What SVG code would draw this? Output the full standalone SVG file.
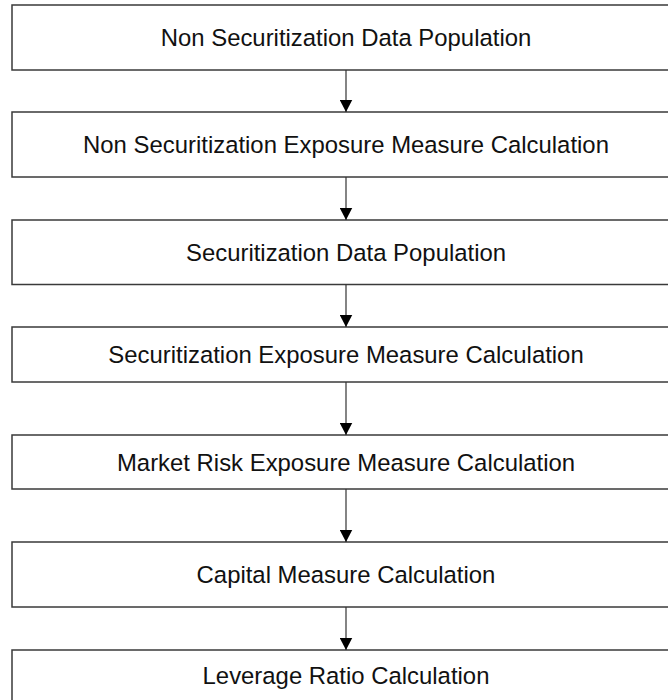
<svg xmlns="http://www.w3.org/2000/svg" width="668" height="700" viewBox="0 0 668 700">
<style>
.box{fill:#fff;stroke:#3a3a3a;stroke-width:1.5}
.lbl{font-family:"Liberation Sans",Arial,sans-serif;font-size:23.9px;fill:#111;text-anchor:middle}
.con{stroke:#333;stroke-width:1.2;fill:none;marker-end:url(#ah)}
</style>
<defs>
<marker id="ah" markerWidth="13" markerHeight="13" refX="12.5" refY="6.5" orient="auto" markerUnits="userSpaceOnUse">
<path d="M0,0 L12.5,6.5 L0,13 Z" fill="#000"/>
</marker>
</defs>
<rect width="668" height="700" fill="#fff"/>
<g id="n1"><rect class="box" x="12" y="5" width="668" height="65"/><text class="lbl" x="346" y="46">Non Securitization Data Population</text></g>
<g id="n2"><rect class="box" x="12" y="112" width="668" height="65"/><text class="lbl" x="346" y="153">Non Securitization Exposure Measure Calculation</text></g>
<g id="n3"><rect class="box" x="12" y="220" width="668" height="64.5"/><text class="lbl" x="346" y="260.5">Securitization Data Population</text></g>
<g id="n4"><rect class="box" x="12" y="327" width="668" height="55"/><text class="lbl" x="346" y="363">Securitization Exposure Measure Calculation</text></g>
<g id="n5"><rect class="box" x="12" y="435" width="668" height="54"/><text class="lbl" x="346" y="470.5">Market Risk Exposure Measure Calculation</text></g>
<g id="n6"><rect class="box" x="12" y="542" width="668" height="65"/><text class="lbl" x="346" y="583">Capital Measure Calculation</text></g>
<g id="n7"><rect class="box" x="12" y="650" width="668" height="65"/><text class="lbl" x="346" y="683.5">Leverage Ratio Calculation</text></g>
<g id="connectors">
<line class="con" x1="346" y1="70" x2="346" y2="112"/>
<line class="con" x1="346" y1="177" x2="346" y2="220"/>
<line class="con" x1="346" y1="284.5" x2="346" y2="327"/>
<line class="con" x1="346" y1="382" x2="346" y2="435"/>
<line class="con" x1="346" y1="489" x2="346" y2="542"/>
<line class="con" x1="346" y1="607" x2="346" y2="650"/>
</g>
</svg>
